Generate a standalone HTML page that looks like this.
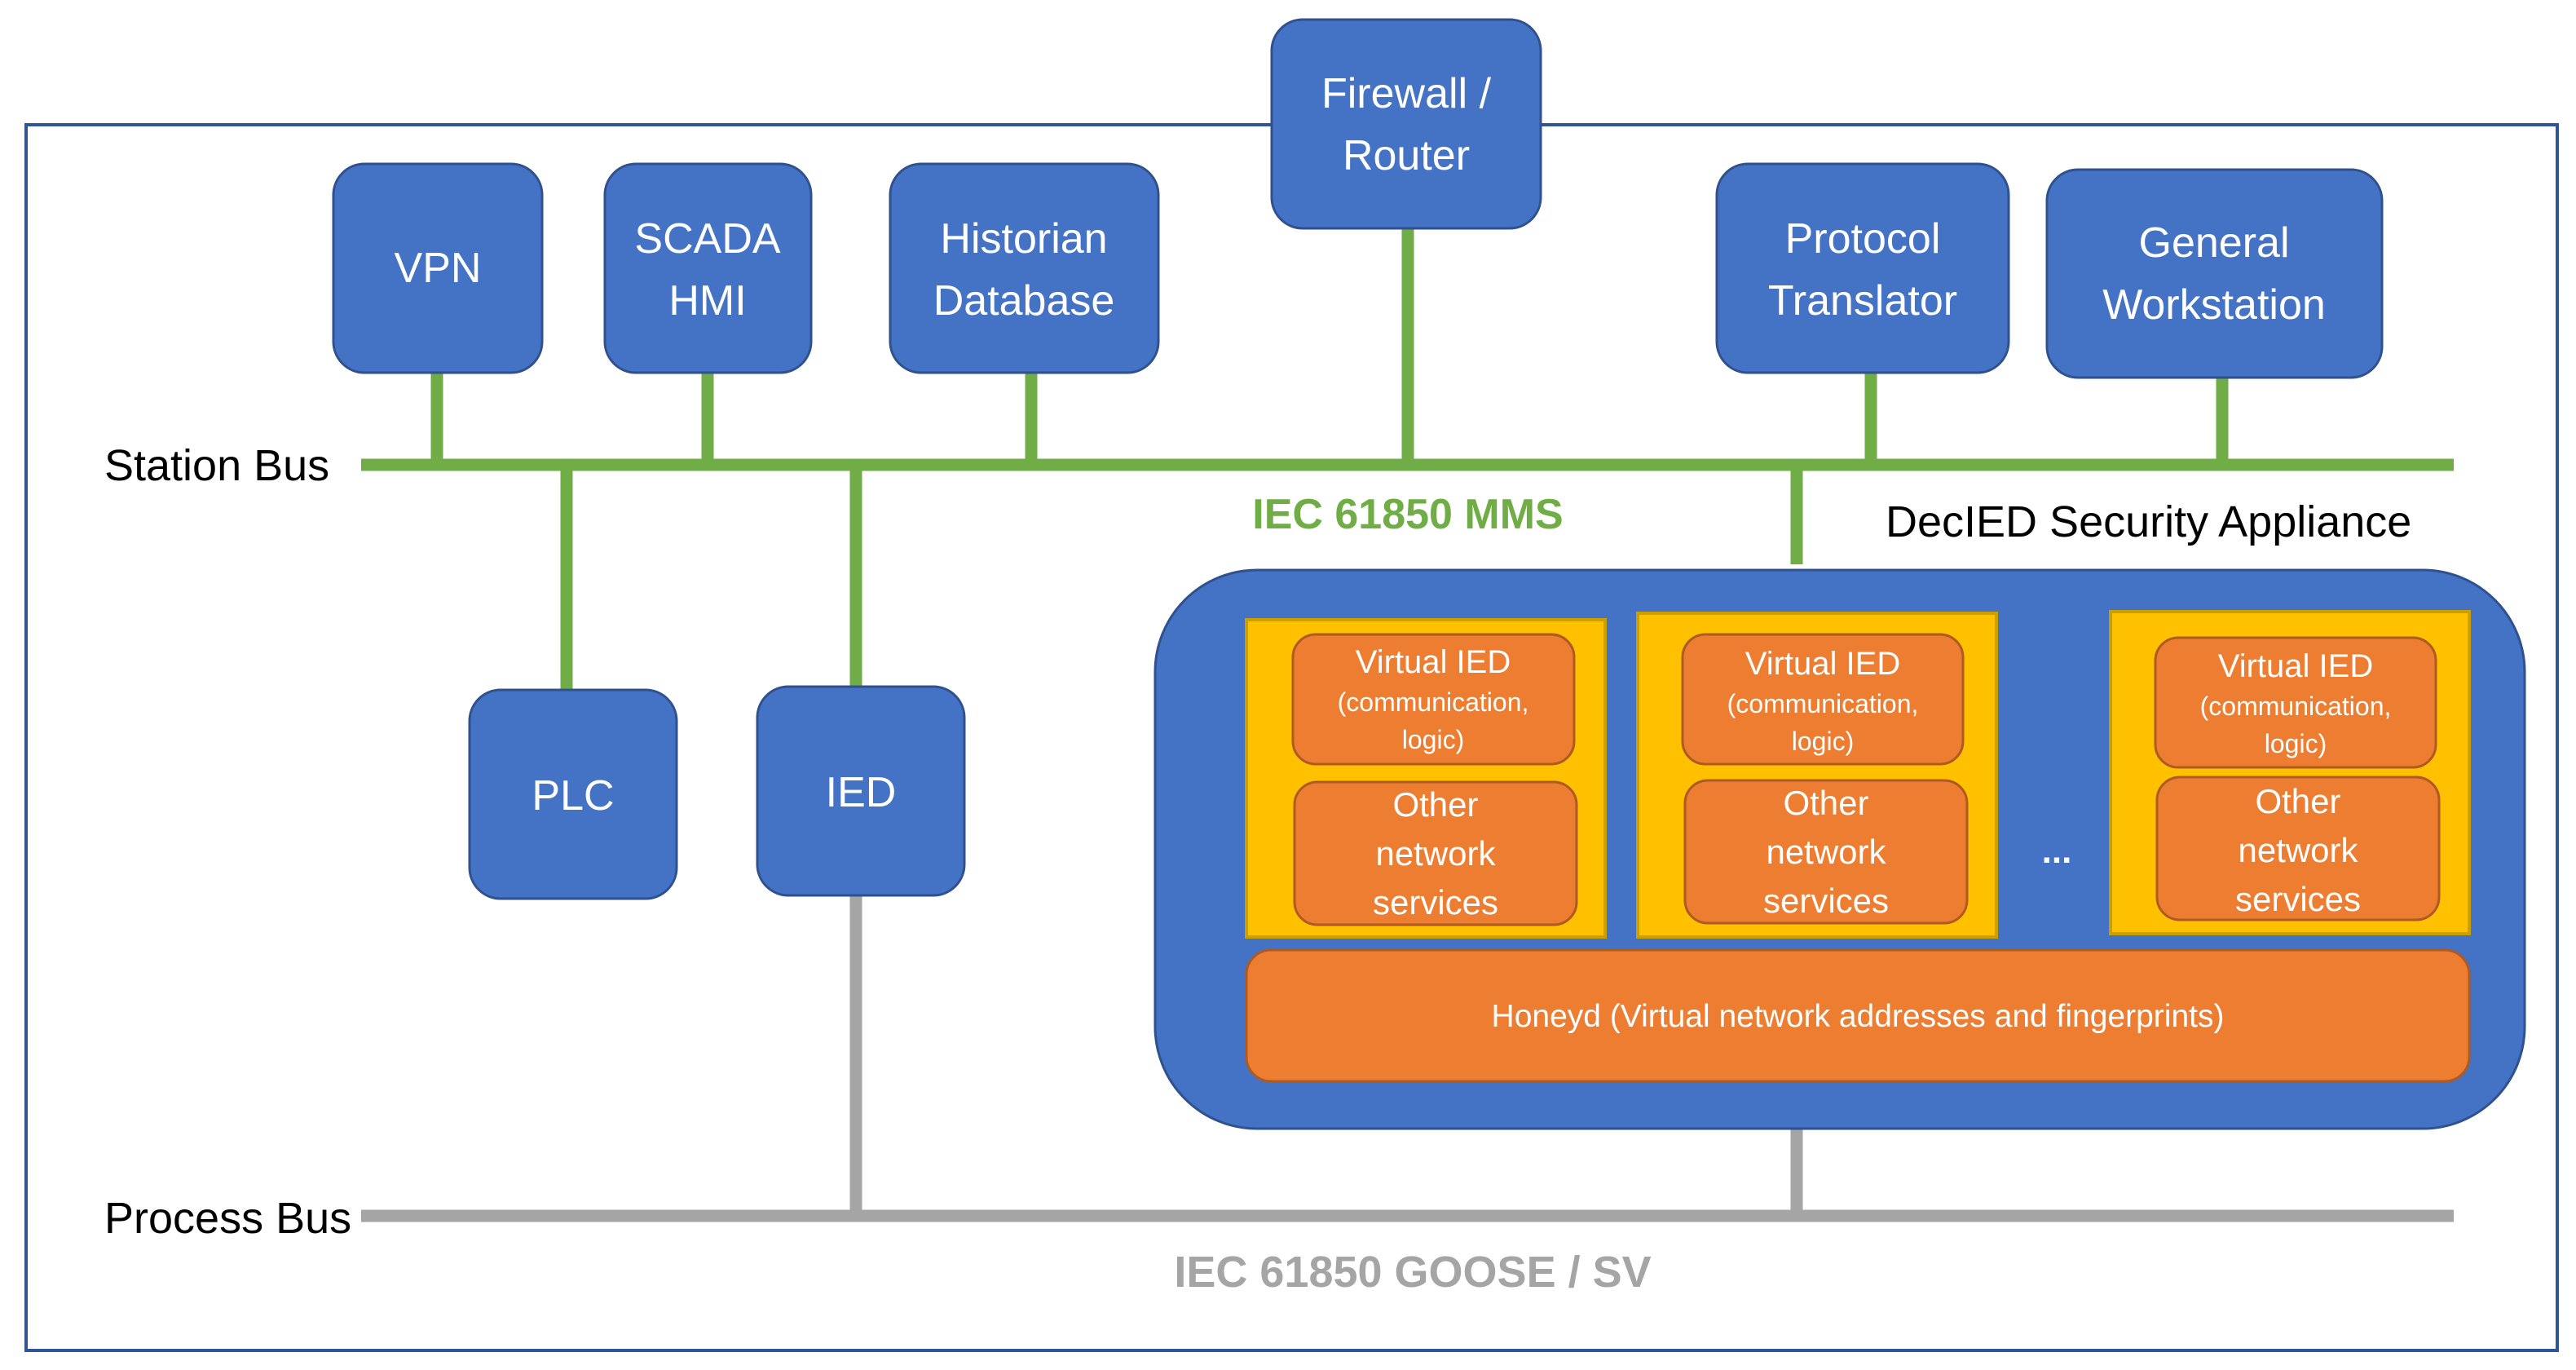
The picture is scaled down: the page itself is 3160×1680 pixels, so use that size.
<!DOCTYPE html>
<html><head><meta charset="utf-8"><style>html,body{margin:0;padding:0;background:#fff}svg{display:block}</style></head>
<body>
<svg width="3160" height="1680" viewBox="0 0 3160 1680" xmlns="http://www.w3.org/2000/svg" font-family="Liberation Sans, sans-serif">
<rect x="0" y="0" width="3160" height="1680" fill="#fff"/>
<rect x="32" y="153" width="3105" height="1503" fill="none" stroke="#2F5597" stroke-width="4"/>
<g stroke="#70AD47" stroke-width="15">
<line x1="443" y1="570" x2="3010" y2="570"/>
<line x1="536" y1="450" x2="536" y2="570"/>
<line x1="868" y1="450" x2="868" y2="570"/>
<line x1="1265" y1="450" x2="1265" y2="570"/>
<line x1="1727" y1="275" x2="1727" y2="570"/>
<line x1="2295" y1="450" x2="2295" y2="570"/>
<line x1="2726" y1="455" x2="2726" y2="570"/>
<line x1="695" y1="570" x2="695" y2="850"/>
<line x1="1050" y1="570" x2="1050" y2="846"/>
<line x1="2204" y1="570" x2="2204" y2="692"/>
</g>
<g stroke="#A5A5A5" stroke-width="15">
<line x1="443" y1="1491" x2="3010" y2="1491"/>
<line x1="1050" y1="1095" x2="1050" y2="1491"/>
<line x1="2204" y1="1380" x2="2204" y2="1491"/>
</g>
<g fill="#4472C4" stroke="#2F528F" stroke-width="3">
<rect x="1560" y="24" width="330" height="256" rx="38"/>
<rect x="409" y="201" width="256" height="256" rx="38"/>
<rect x="742" y="201" width="253" height="256" rx="38"/>
<rect x="1092" y="201" width="329" height="256" rx="38"/>
<rect x="2106" y="201" width="358" height="256" rx="38"/>
<rect x="2511" y="208" width="411" height="255" rx="38"/>
<rect x="576" y="846" width="254" height="256" rx="38"/>
<rect x="929" y="842" width="254" height="256" rx="38"/>
<rect x="1417" y="699" width="1680" height="685" rx="125"/>
</g>
<g fill="#fff" font-size="52" text-anchor="middle">
<text x="1725" y="132">Firewall /</text><text x="1725" y="208">Router</text>
<text x="537" y="346">VPN</text>
<text x="868" y="310">SCADA</text><text x="868" y="386">HMI</text>
<text x="1256" y="310">Historian</text><text x="1256" y="386">Database</text>
<text x="2285" y="310">Protocol</text><text x="2285" y="386">Translator</text>
<text x="2716" y="315">General</text><text x="2716" y="391">Workstation</text>
<text x="703" y="993">PLC</text>
<text x="1056" y="989">IED</text>
</g>
<g fill="#FFC000" stroke="#C9A000" stroke-width="4">
<rect x="1529" y="760" width="440" height="389"/>
<rect x="2009" y="752" width="440" height="397"/>
<rect x="2589" y="750" width="440" height="395"/>
</g>
<g fill="#ED7D31" stroke="#AE5A21" stroke-width="3">
<rect x="1586" y="778" width="345" height="159" rx="28"/>
<rect x="1588" y="959" width="346" height="175" rx="28"/>
<rect x="2064" y="778" width="344" height="159" rx="28"/>
<rect x="2067" y="957" width="346" height="175" rx="28"/>
<rect x="2644" y="782" width="344" height="159" rx="28"/>
<rect x="2646" y="953" width="346" height="175" rx="28"/>
<rect x="1529" y="1165" width="1500" height="161" rx="30"/>
</g>
<g fill="#fff" text-anchor="middle">
<g font-size="40">
<text x="1758" y="825">Virtual IED</text>
<text x="2236" y="827">Virtual IED</text>
<text x="2816" y="830">Virtual IED</text>
</g>
<g font-size="32">
<text x="1758" y="872">(communication,</text><text x="1758" y="918">logic)</text>
<text x="2236" y="874">(communication,</text><text x="2236" y="920">logic)</text>
<text x="2816" y="877">(communication,</text><text x="2816" y="923">logic)</text>
</g>
<g font-size="42">
<text x="1761" y="1001">Other</text><text x="1761" y="1061">network</text><text x="1761" y="1121">services</text>
<text x="2240" y="999">Other</text><text x="2240" y="1059">network</text><text x="2240" y="1119">services</text>
<text x="2819" y="997">Other</text><text x="2819" y="1057">network</text><text x="2819" y="1117">services</text>
</g>
<text x="2523" y="1058" font-size="44" font-weight="bold">...</text>
<text x="2279" y="1259" font-size="39">Honeyd (Virtual network addresses and fingerprints)</text>
</g>
<g font-size="54" fill="#000">
<text x="128" y="589">Station Bus</text>
<text x="128" y="1512">Process Bus</text>
<text x="2313" y="658">DecIED Security Appliance</text>
</g>
<text x="1727" y="648" font-size="52" font-weight="bold" fill="#70AD47" text-anchor="middle">IEC 61850 MMS</text>
<text x="1733" y="1578" font-size="54" font-weight="bold" fill="#A5A5A5" text-anchor="middle">IEC 61850 GOOSE / SV</text>
</svg>
</body></html>
